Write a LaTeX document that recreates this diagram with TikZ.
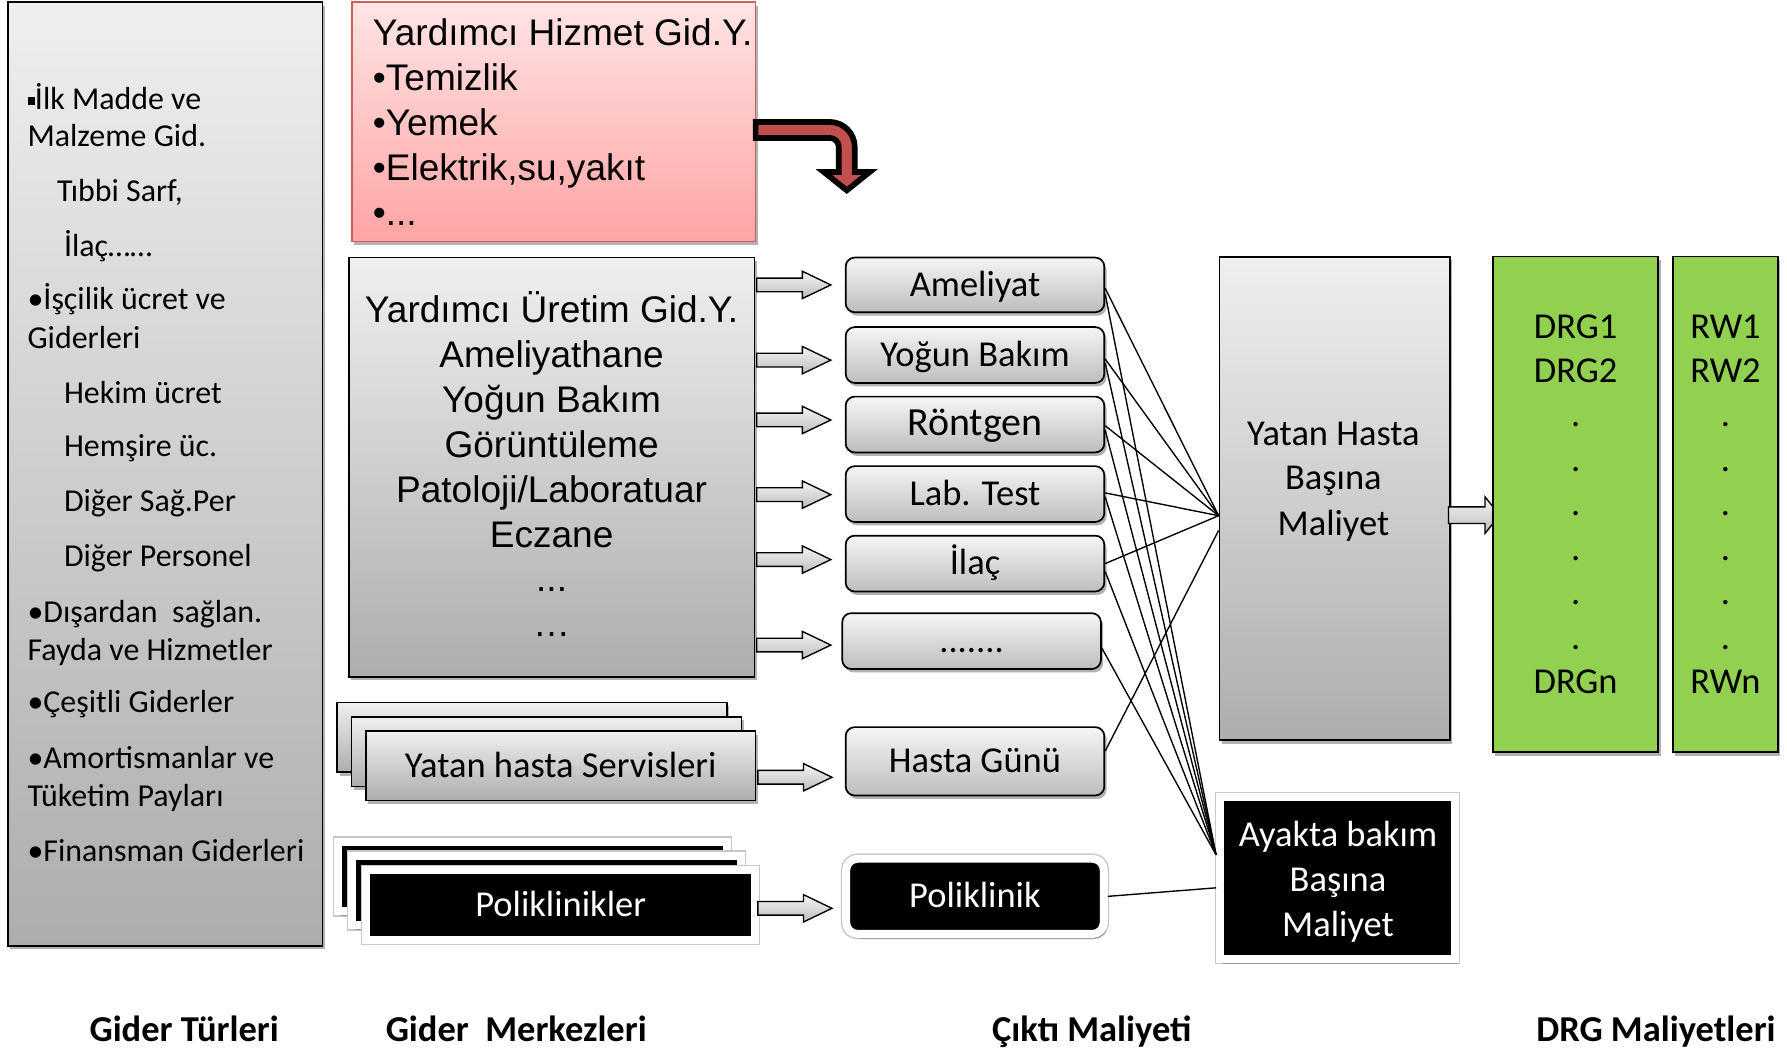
\documentclass[tikz,border=0pt]{standalone}
\usepackage{fontspec}
\setmainfont{Carlito}
\newfontfamily\arialf{Liberation Sans}
\usetikzlibrary{shadows,calc}
\definecolor{gtop}{HTML}{EFEFEF}
\definecolor{gbot}{HTML}{ADADAD}
\definecolor{ctop}{HTML}{F5F5F5}
\definecolor{cbot}{HTML}{BDBDBD}
\definecolor{rtop}{HTML}{FFE4E4}
\definecolor{rbot}{HTML}{FFA4A4}
\definecolor{rborder}{HTML}{C9605C}
\definecolor{arrred}{HTML}{C0504D}
\definecolor{drggreen}{HTML}{92D050}
\newcommand\fsz[1]{\fontsize{#1}{#1}\selectfont}
\newcommand\sqb{\rule[4.5pt]{6.5pt}{6.5pt}}
\begin{document}
\begin{tikzpicture}[x=1pt,y=-1pt,
 shd/.style={drop shadow={shadow xshift=2pt,shadow yshift=-3pt,opacity=0.3,fill=black}},
 gbox/.style={rectangle,inner sep=0pt,line width=1.5pt,draw=black,top color=gtop,bottom color=gbot,shd},
 rbox/.style={rectangle,inner sep=0pt,line width=1.5pt,draw=rborder,top color=rtop,bottom color=rbot,shd},
 cen/.style={text height=22pt,text depth=2pt},
 obox/.style={rectangle,rounded corners=8pt,inner sep=0pt,line width=1.5pt,draw=black,top color=ctop,bottom color=cbot,minimum width=227pt,minimum height=49pt,font=\fsz{32},cen,shd},
 kbox/.style={rectangle,inner sep=0pt,line width=7pt,draw=white,fill=black,text=white,font=\fsz{32},cen,
   preaction={draw=black!22,line width=9.5pt},
   drop shadow={shadow xshift=2.5pt,shadow yshift=-4pt,opacity=0.25,fill=black}},
 grn/.style={rectangle,inner sep=0pt,line width=1.5pt,draw=black,fill=drggreen,shd},
 ltxt/.style={inner sep=0pt,anchor=base west,font=\fsz{28}},
 atxt/.style={inner sep=0pt,font=\arialf\fsz{32.5}},
 ctxt/.style={inner sep=0pt,anchor=base,font=\fsz{32}},
 lbl/.style={inner sep=0pt,anchor=base,font=\bfseries\fsz{32}},
 conn/.style={line width=1.2pt,draw=black},
 barrs/.style={line width=1.2pt,draw=black,top color=ctop,bottom color=cbot},
 pics/barr/.style={code={\path[barrs] (0,-6) -- (40,-6) -- (40,-12) -- (65,0) -- (40,12) -- (40,6) -- (0,6) -- cycle;}}
]
\useasboundingbox (0,0) rectangle (1568,919);

% ---------- Gider Turleri ----------
\node[gbox,minimum width=276pt,minimum height=828pt] (gt) at (145,416) {};
\node[ltxt] (lt1) at (24,96.5) {\sqb İlk Madde ve};
\node[ltxt] (lt2) at (24,128.7) {Malzeme Gid.};
\node[ltxt] (lt3) at (50,177) {Tıbbi Sarf,};
\node[ltxt] (lt4) at (56,225) {İlaç\ldots\ldots};
\node[ltxt] (lt5) at (24,272) {•İşçilik ücret ve};
\node[ltxt] (lt6) at (24,305.6) {Giderleri};
\node[ltxt] (lt7) at (56,354) {Hekim ücret};
\node[ltxt] (lt8) at (56,400.7) {Hemşire üc.};
\node[ltxt] (lt9) at (56,449) {Diğer Sağ.Per};
\node[ltxt] (lt10) at (56,497) {Diğer Personel};
\node[ltxt] (lt11) at (24,546) {•Dışardan\ \ sağlan.};
\node[ltxt] (lt12) at (24,579.5) {Fayda ve Hizmetler};
\node[ltxt] (lt13) at (24,625.5) {•Çeşitli Giderler};
\node[ltxt] (lt14) at (24,674.5) {•Amortismanlar ve};
\node[ltxt] (lt15) at (24,708) {Tüketim Payları};
\node[ltxt] (lt16) at (24,755.6) {•Finansman Giderleri};

% ---------- Yardimci Hizmet ----------
\node[rbox,minimum width=354pt,minimum height=210pt] (rb) at (486,107) {};
\node[atxt,anchor=base west] (rt1) at (327,40) {Yardımcı Hizmet Gid.Y.};
\node[atxt,anchor=base west] (rt2) at (327,79.5) {•Temizlik};
\node[atxt,anchor=base west] (rt3) at (327,119) {•Yemek};
\node[atxt,anchor=base west] (rt4) at (327,158.5) {•Elektrik,su,yakıt};
\node[atxt,anchor=base west] (rt5) at (327,198) {•.{}.{}.};

% bent arrow
\draw[line width=5pt,draw=black,fill=arrred,miter limit=10]
 (663,107) -- (728,107) .. controls (740.1,107) and (750,116.9) .. (750,129)
 -- (750,151) -- (763,151) -- (743,167) -- (723,151) -- (736,151) -- (736,129)
 .. controls (736,124.6) and (732.4,121) .. (728,121) -- (663,121) -- cycle;

% ---------- Yardimci Uretim ----------
\node[gbox,minimum width=356pt,minimum height=368pt] (gm) at (484,410) {};
\node[atxt,anchor=base] (mt1) at (484,283) {Yardımcı Üretim Gid.Y.};
\node[atxt,anchor=base] (mt2) at (484,322.4) {Ameliyathane};
\node[atxt,anchor=base] (mt3) at (484,361.8) {Yoğun Bakım};
\node[atxt,anchor=base] (mt4) at (484,401.2) {Görüntüleme};
\node[atxt,anchor=base] (mt5) at (484,440.6) {Patoloji/Laboratuar};
\node[atxt,anchor=base] (mt6) at (484,480) {Eczane};
\node[atxt,anchor=base] (mt7) at (484,519.4) {.{}.{}.};
\node[atxt,anchor=base] (mt8) at (484,558.8) {…};

% ---------- Yatan hasta Servisleri stack ----------
\node[gbox,minimum width=342pt,minimum height=61pt] (ys3) at (467,647) {};
\node[gbox,minimum width=342pt,minimum height=61pt] (ys2) at (479.5,659.5) {};
\node[gbox,cen,minimum width=342pt,minimum height=61pt,font=\fsz{32}] (ys1) at (492,672) {Yatan hasta Servisleri};

% ---------- Poliklinikler stack ----------
\node[kbox,minimum width=341pt,minimum height=61pt] (pl3) at (467,769) {};
\node[kbox,minimum width=341pt,minimum height=61pt] (pl2) at (479.5,781.5) {};
\node[kbox,minimum width=341pt,minimum height=61pt] (pl1) at (492,794) {Poliklinikler};

% ---------- Cikti boxes ----------
\node[obox,minimum height=48pt] (c1) at (855.5,250) {Ameliyat};
\node[obox] (c2) at (855.5,311.5) {Yoğun Bakım};
\node[obox,font=\fsz{35}] (c3) at (855.5,372.5) {Röntgen};
\node[obox] (c4) at (855.5,433.5) {Lab. Test};
\node[obox] (c5) at (855.5,494.5) {İlaç};
\node[obox] (c6) at (852.5,562.5) {.{}.{}.{}.{}.{}.{}.};
\node[obox,minimum height=60pt] (c7) at (855.5,668) {Hasta Günü};
\node[kbox,rounded corners=10pt,minimum width=226pt,minimum height=66pt] (pk) at (855.5,786.5) {Poliklinik};

% block arrows
\pic (ar1) at (664,250) {barr};
\pic (ar2) at (664,316) {barr};
\pic (ar3) at (664,368.5) {barr};
\pic (ar4) at (664,434) {barr};
\pic (ar5) at (664,491) {barr};
\pic (ar6) at (664,566) {barr};
\pic (ar7) at (665,682) {barr};
\pic (ar8) at (665,797) {barr};

% ---------- Yatan Hasta Basina Maliyet ----------
\node[gbox,minimum width=202pt,minimum height=424pt] (yb) at (1171,437.5) {};
\node[ctxt] (yt1) at (1170,390.5) {Yatan Hasta};
\node[ctxt] (yt2) at (1170,429.5) {Başına};
\node[ctxt] (yt3) at (1170,469.5) {Maliyet};

% arrow to DRG
\path[barrs] (1271,444.7) -- (1303,444.7) -- (1303,436) -- (1316,452) -- (1303,468) -- (1303,459.3) -- (1271,459.3) -- cycle;

% ---------- DRG / RW ----------
\node[grn,minimum width=145pt,minimum height=435pt] (drg) at (1382.5,442.5) {};
\node[grn,minimum width=92pt,minimum height=435pt] (rw) at (1514,442.5) {};
\node[ctxt] (dt1) at (1382.5,296.6) {DRG1};
\node[ctxt] (dt2) at (1382.5,335.6) {DRG2};
\node[ctxt] (dt3) at (1382.5,374.6) {.};
\node[ctxt] (dt4) at (1382.5,413.6) {.};
\node[ctxt] (dt5) at (1382.5,452.6) {.};
\node[ctxt] (dt6) at (1382.5,491.6) {.};
\node[ctxt] (dt7) at (1382.5,530.6) {.};
\node[ctxt] (dt8) at (1382.5,569.6) {.};
\node[ctxt] (dt9) at (1382.5,608.6) {DRGn};
\node[ctxt] (wt1) at (1514,296.6) {RW1};
\node[ctxt] (wt2) at (1514,335.6) {RW2};
\node[ctxt] (wt3) at (1514,374.6) {.};
\node[ctxt] (wt4) at (1514,413.6) {.};
\node[ctxt] (wt5) at (1514,452.6) {.};
\node[ctxt] (wt6) at (1514,491.6) {.};
\node[ctxt] (wt7) at (1514,530.6) {.};
\node[ctxt] (wt8) at (1514,569.6) {.};
\node[ctxt] (wt9) at (1514,608.6) {RWn};

% ---------- Ayakta ----------
\node[kbox,minimum width=206pt,minimum height=142pt] (ay) at (1173.5,770.5) {};
\node[ctxt,text=white] (at1) at (1174,742.5) {Ayakta bakım};
\node[ctxt,text=white] (at2) at (1174,782) {Başına};
\node[ctxt,text=white] (at3) at (1174,821.5) {Maliyet};

% ---------- connectors ----------
\coordinate (yc) at ($(yb.west)+(0,15)$);
\coordinate (yc2) at ($(yb.west)+(0,28)$);
\coordinate (ac) at ($(ay.west)+(0,-20.5)$);
\coordinate (ac2) at ($(ay.west)+(0,8.5)$);
\draw[conn] ($(c1.east)+(0,3)$) -- (yc);
\draw[conn] ($(c1.east)+(0,8)$) -- (ac);
\draw[conn] ($(c2.east)+(0,3.5)$) -- (yc);
\draw[conn] ($(c2.east)+(0,7)$) -- (ac);
\draw[conn] ($(c3.east)+(0,1)$) -- (yc);
\draw[conn] ($(c3.east)+(0,5)$) -- (ac);
\draw[conn] ($(c4.east)+(0,-1)$) -- (yc);
\draw[conn] ($(c4.east)+(0,2.5)$) -- (ac);
\draw[conn] (c5.east) -- (yc);
\draw[conn] ($(c5.east)+(0,7)$) -- (ac);
\draw[conn] ($(c6.east)+(0,6)$) -- (ac);
\draw[conn] ($(c7.east)+(0,-9)$) -- (yc2);
\draw[conn] (pk.east) -- (ac2);

% ---------- bottom labels ----------
\node[lbl] (lb1) at (161.6,914) {Gider Türleri};
\node[lbl] (lb2) at (453,914) {Gider\ \ Merkezleri};
\node[lbl] (lb3) at (958,914) {Çıktı Maliyeti};
\node[lbl] (lb4) at (1453,914) {DRG Maliyetleri};
\end{tikzpicture}
\end{document}
